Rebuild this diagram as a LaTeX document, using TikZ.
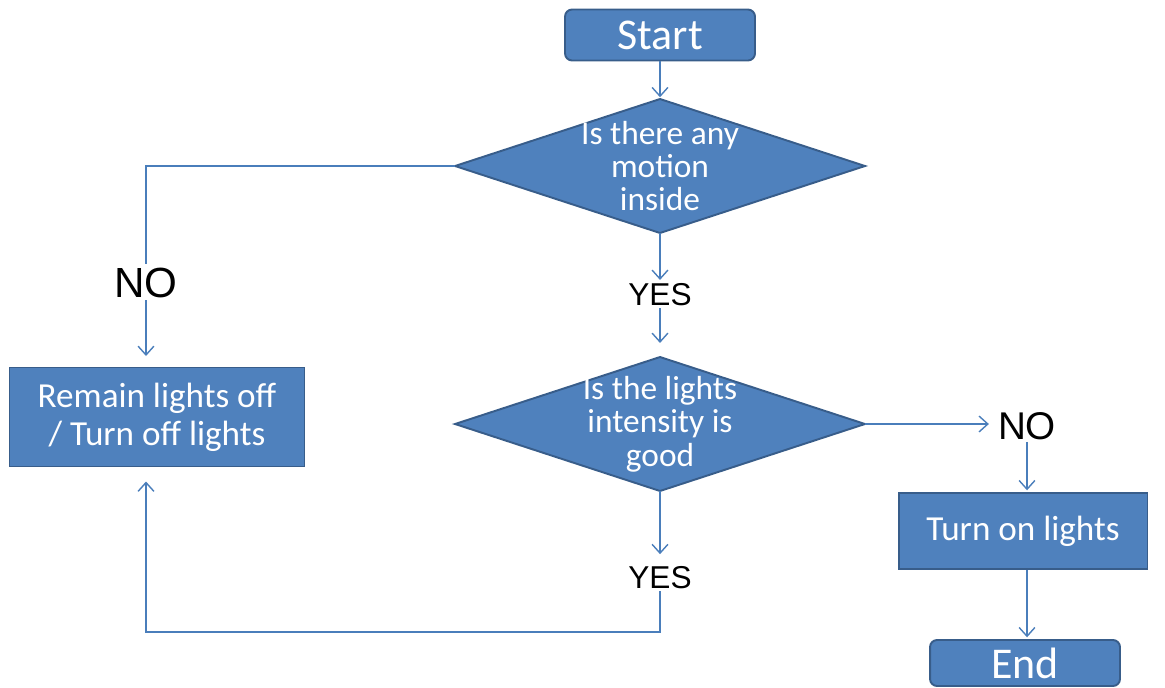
\documentclass[tikz,border=0pt]{standalone}
\usepackage{fontspec}
\setmainfont{Carlito}
\newfontfamily\arialfont{Liberation Sans}
\usetikzlibrary{shapes.geometric, arrows.meta}

\definecolor{boxblue}{HTML}{4F81BD}
\definecolor{boxedge}{HTML}{385D8A}
\definecolor{linkblue}{HTML}{4A7EBB}

\tikzset{
  block/.style={draw=boxedge, fill=boxblue, line width=1.1pt, text=white, align=center,
    inner sep=0pt, font=\fontsize{20}{21.5}\selectfont},
  terminal/.style={block, rounded corners=4pt, font=\fontsize{25}{27}\selectfont},
  decision/.style={diamond, draw=boxedge, fill=boxblue, line width=1.1pt, inner sep=0pt,
    outer sep=0pt, minimum width=8.2cm, minimum height=2.68cm},
  dtext/.style={text=white, align=center, inner sep=0pt, font=\fontsize{19}{19}\selectfont},
  answer/.style={inner sep=1pt, font=\arialfont\fontsize{18}{18}\selectfont},
  link/.style={draw=linkblue, line width=0.8pt, shorten >=1pt,
    -{Straight Barb[length=5pt, width=9pt]}},
}

\begin{document}
\begin{tikzpicture}[x=0.02cm, y=-0.02cm]
  \useasboundingbox (0,0) rectangle (1165,687);

  % boxes
  \node[terminal, minimum width=3.8cm, minimum height=1.02cm] (start) at (660,35) {Start};
  \node[decision] (motion) at (660,166) {};
  \node[dtext] (motiontxt) at (motion) {Is there any\\motion\\inside};
  \node[block, minimum width=5.9cm, minimum height=1.98cm] (lightsoff) at (157,417) {Remain lights off\\/ Turn off lights};
  \node[decision] (intensity) at (660,424) {};
  \node[dtext] (intensitytxt) at (intensity) {Is the lights\\intensity is\\good};
  \node[block, minimum width=4.98cm, minimum height=1.52cm] (lightson) at (1023,531) {Turn on lights};
  \node[terminal, minimum width=3.8cm, minimum height=0.92cm] (finish) at (1025,663) {End};

  % answers
  \node[answer, font=\arialfont\fontsize{24}{24}\selectfont] (nomotion) at (146,283) {NO};
  \node[answer] (yesmotion) at (660,295) {YES};
  \node[answer, font=\arialfont\fontsize{22}{22}\selectfont] (nodark) at (1027,426) {NO};
  \node[answer] (yesgood) at (660,578) {YES};
  \coordinate (back) at (660,632);

  % connectors
  \draw[link] (start) -- (motion);
  \draw[link, -] (motion.west) -| (nomotion.north);
  \draw[link, shorten >=6pt] (nomotion) -- (lightsoff.north -| nomotion);
  \draw[link] (motion.south) -- (yesmotion.north);
  \draw[link, shorten >=8pt] (yesmotion.south) -- (intensity.north);
  \draw[link, shorten >=4pt] (intensity.east) -- (intensity.east -| nodark.west);
  \draw[link] (nodark.south) -- (nodark.south |- lightson.north);
  \draw[link] (lightson.south -| nodark) -- (finish.north -| nodark);
  \draw[link, shorten >=6pt] (intensity.south) -- (yesgood.north);
  \draw[link, shorten >=8pt] (yesgood.south) -- (back) -| (lightsoff.south -| nomotion);
\end{tikzpicture}
\end{document}
